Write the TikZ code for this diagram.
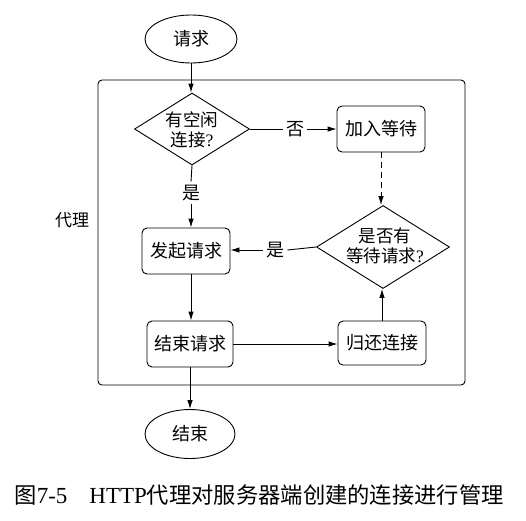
\documentclass[tikz,border=0pt]{standalone}
\usepackage{fontspec}
\setmainfont{Liberation Serif}
\newfontfamily\cjk{Noto Sans CJK SC}
\usetikzlibrary{shapes.geometric,arrows.meta}
\newcommand\myqm{{\rmfamily ?}}
\begin{document}
\begin{tikzpicture}[x=1pt,y=-1pt, line width=0.9pt,
  >={Latex[length=9pt,width=5.5pt]},
  txt/.style={font=\cjk\fontsize{18}{21}\selectfont, inner sep=0pt},
  stepbox/.style={txt, draw, rounded corners=5pt},
  term/.style={txt, draw, ellipse},
  decide/.style={draw, diamond, inner sep=0pt},
  dtext/.style={font=\cjk\fontsize{17.5}{19.5}\selectfont, align=center, inner sep=0pt},
  lbl/.style={txt, fill=white, inner sep=3pt},
  dashline/.style={dash pattern=on 6pt off 4pt}]
\useasboundingbox (0,0) rectangle (526,520);
% frame
\draw[rounded corners=4pt] (98,80) rectangle (465,385);
\node[font=\cjk\fontsize{17}{20}\selectfont, inner sep=0pt] (proxy) at (72,220) {代理};
% nodes
\node[term, minimum width=92pt, minimum height=48pt] (req) at (191,39) {请求};
\node[decide, minimum width=115pt, minimum height=72pt] (d1) at (192,129) {};
\node[dtext] (d1t) at (192,130) {有空闲\\连接\myqm};
\node[stepbox, minimum width=88pt, minimum height=46pt] (wait) at (381,129) {加入等待};
\node[decide, minimum width=133pt, minimum height=83pt] (d2) at (383,247) {};
\node[dtext] (d2t) at (385,246) {是否有\\等待请求\myqm};
\node[stepbox, minimum width=88pt, minimum height=46pt] (start) at (186,251) {发起请求};
\node[stepbox, minimum width=86pt, minimum height=46pt] (endreq) at (190,344) {结束请求};
\node[stepbox, minimum width=88pt, minimum height=44pt] (back) at (382,343) {归还连接};
\node[term, minimum width=90pt, minimum height=49pt] (fin) at (190,434) {结束};
% labels
\node[lbl] (no) at (295,129) {否};
\node[lbl] (yes1) at (191,193) {是};
\node[lbl] (yes2) at (275,250) {是};
% connectors
\draw[->] (req.south) -- (req.south |- d1.north);
\draw (d1.east) -- (no.west);
\draw[->] (no.east) -- (no.east -| wait.west);
\draw[->, dashline] (wait.south) -- (wait.south |- d2.north);
\draw (d1.south) -- (yes1.north);
\draw[->] (yes1.south) -- (yes1.south |- start.north);
\draw (d2.west) -- (yes2.east);
\draw[->] (yes2.west) -- (yes2.west -| start.east);
\draw[->] (yes1.south |- start.south) -- (yes1.south |- endreq.north);
\draw[->] (endreq.east) -- (endreq.east -| back.west);
\draw[->] (back.north) -- (back.north |- d2.south);
\draw[->] (endreq.south) -- (endreq.south |- fin.north);
% caption
\node[inner sep=0pt, anchor=west] (cap) at (14,495) {{\cjk\fontsize{22.3}{24}\selectfont 图}{\fontsize{23}{26}\selectfont 7-5\hspace{22pt}HTTP}{\cjk\fontsize{22.3}{24}\selectfont 代理对服务器端创建的连接进行管理}};
\end{tikzpicture}
\end{document}
